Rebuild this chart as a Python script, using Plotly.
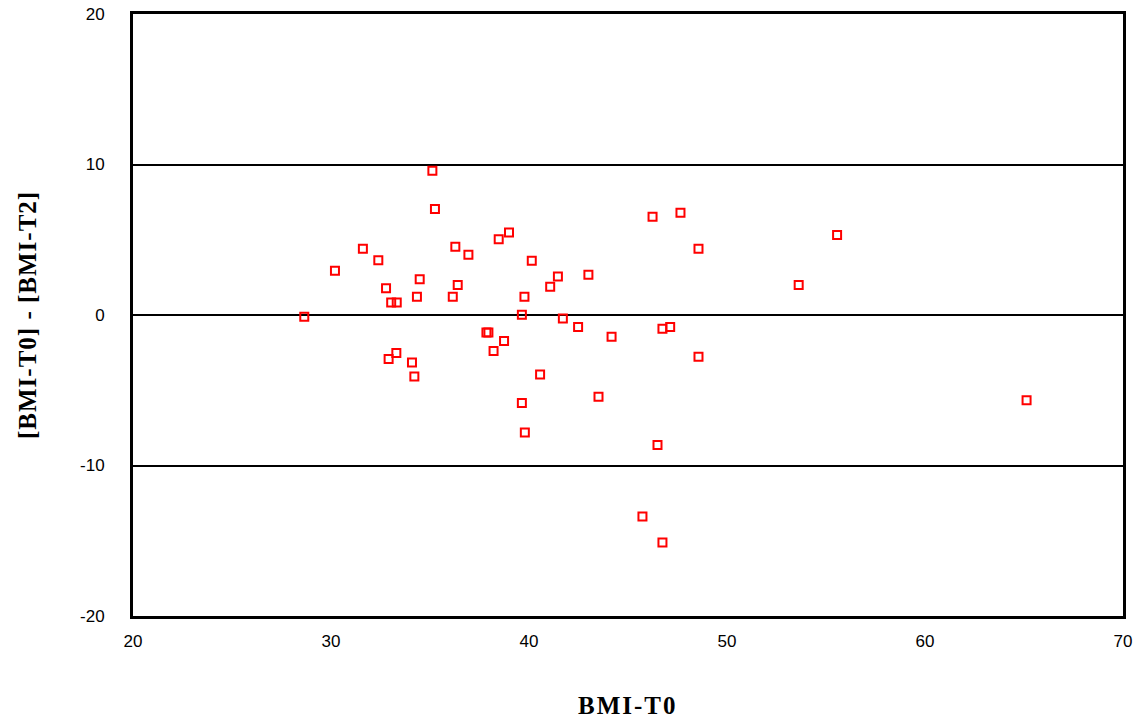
import plotly.graph_objects as go

bmi_t0 = [28.65, 30.20, 31.61, 32.39, 32.78, 33.04, 33.32, 32.91, 33.30, 34.09,
          34.21, 34.34, 34.48, 35.12, 35.25, 36.15, 36.28, 36.40, 36.94, 37.85,
          37.95, 38.21, 38.47, 38.74, 38.99, 39.64, 39.64, 39.77, 39.79, 40.14,
          40.56, 41.07, 41.46, 41.71, 42.48, 43.00, 43.51, 44.17, 45.73, 46.24,
          46.49, 46.74, 46.74, 47.13, 47.65, 48.56, 48.56, 53.62, 55.56, 65.13]
bmi_diff = [-0.12, 2.94, 4.40, 3.63, 1.77, 0.83, 0.83, -2.92, -2.52, -3.15,
            -4.09, 1.21, 2.38, 9.58, 7.04, 1.21, 4.53, 2.00, 4.00, -1.16,
            -1.16, -2.39, 5.04, -1.72, 5.49, 0.01, -5.84, 1.21, -7.81, 3.60,
            -3.95, 1.87, 2.56, -0.23, -0.79, 2.67, -5.44, -1.45, -13.39, 6.53,
            -8.63, -0.92, -15.12, -0.79, 6.79, 4.40, -2.78, 2.00, 5.31, -5.66]

x_ticks = [20, 30, 40, 50, 60, 70]
x_ticktext = ["20", "30", "40", "50", "60", "70"]
y_ticks = [-20, -10, 0, 10, 20]
y_ticktext = ["-20", "-10", "0", "10", "20"]
x_title = "BMI-T0"
y_title = "[BMI-T0] - [BMI-T2]"

fig = go.Figure()
fig.add_trace(go.Scatter(
    x=bmi_t0, y=bmi_diff, mode="markers",
    marker=dict(symbol="square-open", size=8, color="#FF0000",
                line=dict(color="#FF0000", width=2)),
    showlegend=False, hoverinfo="x+y"))

fig.update_layout(
    width=1137, height=722,
    margin=dict(l=133, r=14, t=14, b=106, autoexpand=False),
    paper_bgcolor="white", plot_bgcolor="white",
    font=dict(family="Liberation Sans, Arial", size=17, color="black"),
    xaxis=dict(range=[20, 70], tickvals=x_ticks, ticktext=x_ticktext,
               showgrid=False, zeroline=False,
               showline=True, linecolor="black", linewidth=3, mirror=True,
               ticks="", ticklabelstandoff=8, automargin=False,
               tickfont=dict(family="Liberation Sans, Arial", size=17)),
    yaxis=dict(range=[-20, 20], tickvals=y_ticks, ticktext=y_ticktext,
               showgrid=True,
               gridcolor="black", gridwidth=2, zeroline=False,
               showline=True, linecolor="black", linewidth=3, mirror=True,
               ticks="", ticklabelstandoff=22, automargin=False,
               tickfont=dict(family="Liberation Sans, Arial", size=17)),
    annotations=[
        dict(text="<b><span style='letter-spacing:2px'>" + x_title + "</span></b>",
             xref="paper", yref="paper",
             x=0.5, y=0, yshift=-89, xanchor="center", yanchor="middle",
             showarrow=False,
             font=dict(family="Liberation Serif, Times New Roman", size=25)),
        dict(text="<b><span style='letter-spacing:1px'>" + y_title + "</span></b>",
             xref="paper", yref="paper",
             x=0, y=0.5, xshift=-106, xanchor="center", yanchor="middle",
             textangle=-90, showarrow=False,
             font=dict(family="Liberation Serif, Times New Roman", size=25)),
    ],
)

fig.write_html("out.html", config={"displayModeBar": False},
               post_script="document.body.style.margin='0';")
